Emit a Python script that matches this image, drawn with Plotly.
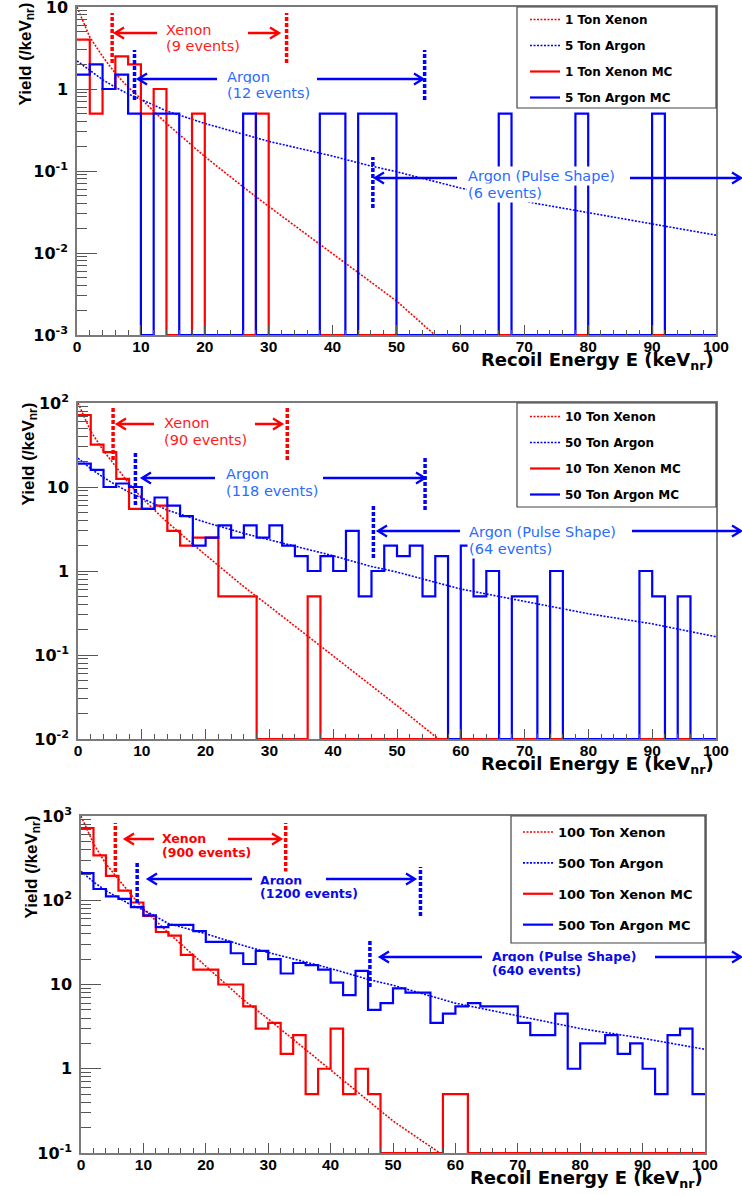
import plotly.graph_objects as go

W, H = 742, 1195

# ---------------- data ----------------
BIN_EDGES = list(range(0, 102, 2))          # 2 keV bins, 0..100 keVnr

# Panel 1: 1 ton Xe / 5 ton Ar
P1_XE_MC = [4, 0.5, 1, 2.5, 2, 0.5, 1, 0, 0, 0.5,
            0, 0, 0, 0, 0.5, 0, 0, 0, 0, 0,
            0, 0, 0, 0, 0, 0, 0, 0, 0, 0,
            0, 0, 0, 0, 0, 0, 0, 0, 0, 0,
            0, 0, 0, 0, 0, 0, 0, 0, 0, 0]
P1_AR_MC = [1.5, 2, 1, 1.5, 0.5, 0, 0.5, 0.5, 0, 0,
            0, 0, 0, 0.5, 0, 0, 0, 0, 0, 0.5,
            0.5, 0, 0.5, 0.5, 0.5, 0, 0, 0, 0, 0,
            0, 0, 0, 0.5, 0, 0, 0, 0, 0, 0.5,
            0, 0, 0, 0, 0, 0.5, 0, 0, 0, 0]
P1_XE_FIT_E = [0, 1, 2, 4, 6, 8, 10, 14, 20, 26, 30, 40, 50, 56]
P1_XE_FIT = [10, 6.5, 4.3, 2.5, 1.55, 1.05, 0.76, 0.38, 0.15, 0.064, 0.037, 0.0098, 0.0026, 0.001]
P1_AR_FIT_E = [0, 2, 4, 6, 8, 10, 14, 20, 26, 30, 40, 46, 50, 60, 72, 80, 90, 100]
P1_AR_FIT = [2.2, 1.7, 1.3, 1.05, 0.87, 0.75, 0.54, 0.38, 0.28, 0.23, 0.152, 0.115, 0.098,
             0.062, 0.04, 0.031, 0.023, 0.0165]

# Panel 2: 10 ton Xe / 50 ton Ar
P2_XE_MC = [72, 32, 26, 12.5, 5.5, 5.5, 6, 3, 2, 2.5,
            2.5, 0.5, 0.5, 0.5, 0, 0, 0, 0, 0.5, 0,
            0, 0, 0, 0, 0, 0, 0, 0, 0, 0,
            0, 0, 0, 0, 0, 0, 0, 0, 0, 0,
            0, 0, 0, 0, 0, 0, 0, 0, 0, 0]
P2_AR_MC = [19, 16, 10, 11, 10, 5.5, 7.5, 6, 4.5, 2,
            2.5, 3.5, 2.5, 3.5, 2.5, 3.5, 2, 1.5, 1, 1.5,
            1, 3, 0.5, 1, 2, 1.5, 2, 0.5, 1.5, 0,
            2, 0.5, 1, 0, 0.5, 0.5, 0, 1, 0, 0,
            0, 0, 0, 0, 1, 0.5, 0, 0.5, 0, 0]
P2_XE_FIT_E = [0, 1, 2, 4, 6, 8, 10, 14, 20, 26, 30, 40, 50, 56.5]
P2_XE_FIT = [100, 68, 46, 27, 17, 11, 7.4, 3.8, 1.55, 0.65, 0.38, 0.097, 0.025, 0.01]
P2_AR_FIT_E = [0, 2, 4, 6, 8, 10, 14, 20, 26, 30, 40, 46, 50, 60, 72, 80, 90, 100]
P2_AR_FIT = [22, 16.5, 13, 10.5, 8.7, 7.4, 5.3, 3.8, 2.8, 2.35, 1.52, 1.13, 0.97,
             0.61, 0.41, 0.31, 0.235, 0.165]

# Panel 3: 100 ton Xe / 500 ton Ar
P3_XE_MC = [720, 340, 195, 130, 94, 65, 42, 38, 22.5, 15,
            15, 10, 10, 5.5, 3, 3.5, 1.5, 2.5, 0.5, 1,
            3, 0.5, 1, 0.5, 0, 0, 0, 0, 0, 0.5,
            0.5, 0, 0, 0, 0, 0, 0, 0, 0, 0,
            0, 0, 0, 0, 0, 0, 0, 0, 0, 0]
P3_AR_MC = [210, 136, 111, 104, 83, 66, 48, 51, 51, 43,
            32, 32, 23.5, 17.5, 25, 20, 13.5, 18, 17, 15,
            10.5, 7.5, 14.5, 5, 6, 9, 8, 8, 3.5, 4.5,
            5.5, 6, 5.5, 5.5, 5.5, 3.5, 2.5, 2.5, 4.5, 1,
            2, 2, 2.5, 1.5, 2, 1, 0.5, 2.5, 3, 0.5]
P3_XE_FIT_E = [0, 1, 2, 4, 6, 8, 10, 14, 20, 26, 30, 40, 50, 57.5]
P3_XE_FIT = [1000, 680, 470, 270, 175, 117, 79, 41, 16.5, 6.6, 3.9, 0.96, 0.24, 0.1]
P3_AR_FIT_E = [0, 2, 4, 6, 8, 10, 14, 20, 26, 30, 40, 46, 50, 60, 72, 80, 90, 100]
P3_AR_FIT = [220, 165, 130, 106, 88, 77, 53, 40, 29, 24, 15.5, 11.5, 9.8,
             6.0, 4.0, 3.0, 2.3, 1.7]

# legend names / labels
P1_NAMES = ["1 Ton Xenon", "5 Ton Argon", "1 Ton Xenon MC", "5 Ton Argon MC"]
P2_NAMES = ["10 Ton Xenon", "50 Ton Argon", "10 Ton Xenon MC", "50 Ton Argon MC"]
P3_NAMES = ["100 Ton Xenon", "500 Ton Argon", "100 Ton Xenon MC", "500 Ton Argon MC"]
XE_EVENTS = ["(9 events)", "(90 events)", "(900 events)"]
AR_EVENTS = ["(12 events)", "(118 events)", "(1200 events)"]
PSD_EVENTS = ["(6 events)", "(64 events)", "(640 events)"]

# analysis windows (keVnr)
XE_WINDOW = [5.5, 32.8]
AR_WINDOW = [9.0, 54.4]
PSD_THRESHOLD = 46.3

X_TICKS = [0, 10, 20, 30, 40, 50, 60, 70, 80, 90, 100]
Y_TICK_TEXT = {-3: "10<sup>-3</sup>", -2: "10<sup>-2</sup>", -1: "10<sup>-1</sup>",
               0: "1", 1: "10", 2: "10<sup>2</sup>", 3: "10<sup>3</sup>"}

# ---------------- layout helpers ----------------
RED = "#ff0000"
BLUE = "#0000ff"
LBLUE = "#2a6cff"
FRAME = "#7a7a7a"


def fx(p):
    return p / W


def fy(p):
    return 1 - p / H


panels = [
    dict(xe=P1_XE_MC, ar=P1_AR_MC, xe_e=P1_XE_FIT_E, xe_f=P1_XE_FIT, ar_e=P1_AR_FIT_E, ar_f=P1_AR_FIT,
         names=P1_NAMES, yr=(-3, 1), box=(77, 716, 7, 335), leg=(517, 716, 7, 108), legpos=(525, 5),
         legfont=12, leggap=7, ytitle=(26, 1), xtitle=361,
         xe_lines=(13, 63), ar_lines=((50, 100), (50, 100)), psd_line=(157, 208),
         xe_arrow=(33, 115, 157, 248, 279), ar_arrow=(79, 138, 217, 317, 423), psd_arrow=(178, 375, 457, 630, 741),
         xe_lab=(166, 30, 46), ar_lab=(227, 77, 93), psd_lab=(468, 176, 193),
         labfont=dict(family="DejaVu Sans", size=14.5), arcol=LBLUE, xecol="#ff1a1a"),
    dict(xe=P2_XE_MC, ar=P2_AR_MC, xe_e=P2_XE_FIT_E, xe_f=P2_XE_FIT, ar_e=P2_AR_FIT_E, ar_f=P2_AR_FIT,
         names=P2_NAMES, yr=(-2, 2), box=(78, 716, 403, 739), leg=(517, 716, 403, 507), legpos=(525, 402),
         legfont=12, leggap=7, ytitle=(29, 401), xtitle=765,
         xe_lines=(408, 460), ar_lines=((452, 505), (457, 510)), psd_line=(505, 558),
         xe_arrow=(424, 117, 154, 255, 282), ar_arrow=(478, 142, 215, 323, 425), psd_arrow=(531, 378, 460, 632, 741),
         xe_lab=(164, 423, 440), ar_lab=(226, 474, 491), psd_lab=(469, 532, 549),
         labfont=dict(family="DejaVu Sans", size=14.5), arcol=LBLUE, xecol="#ff1a1a"),
    dict(xe=P3_XE_MC, ar=P3_AR_MC, xe_e=P3_XE_FIT_E, xe_f=P3_XE_FIT, ar_e=P3_AR_FIT_E, ar_f=P3_AR_FIT,
         names=P3_NAMES, yr=(-1, 3), box=(81, 705, 816, 1153), leg=(511, 705, 816, 943), legpos=(518, 817),
         legfont=13, leggap=11, ytitle=(32, 814), xtitle=1179,
         xe_lines=(823, 872), ar_lines=((862, 903), (867, 916)), psd_line=(940, 987),
         xe_arrow=(839, 125, 154, 228, 281), ar_arrow=(879, 148, 252, 326, 415), psd_arrow=(957, 380, 482, 655, 741),
         xe_lab=(162, 838, 852), ar_lab=(260, 880, 893), psd_lab=(492, 957, 970),
         labfont=dict(family="DejaVu Sans", size=12.5, weight="bold"), arcol="#0a0ae6", xecol=RED),
]

fig = go.Figure()
annotations = []
shapes = []
layout = dict(width=W, height=H, margin=dict(l=0, r=0, t=0, b=0, autoexpand=False),
              paper_bgcolor="white", plot_bgcolor="white", showlegend=True)


def arrow_path(yy, tip, tail, col):
    s = 1 if tail > tip else -1          # head arms point back toward the tail
    path = (f"M {fx(tail)},{fy(yy)} L {fx(tip)},{fy(yy)} "
            f"M {fx(tip + s * 9)},{fy(yy - 5.5)} L {fx(tip)},{fy(yy)} L {fx(tip + s * 9)},{fy(yy + 5.5)}")
    return dict(type="path", xref="paper", yref="paper", path=path,
                line=dict(color=col, width=2.3), layer="above")


for i, p in enumerate(panels):
    n = i + 1
    sfx = "" if n == 1 else str(n)
    xa, ya = "x" + sfx, "y" + sfx
    legname = "legend" + sfx
    lo, hi = p["yr"]
    ymin = 10 ** lo
    x0, x1, y0, y1 = p["box"]

    def step(vals):
        ys = [v if v > 0 else ymin for v in vals]
        return BIN_EDGES, ys + [ys[-1]]

    for k, (xs, ys, col) in enumerate(((p["xe_e"], p["xe_f"], RED), (p["ar_e"], p["ar_f"], BLUE))):
        fig.add_trace(go.Scatter(x=xs, y=ys, mode="lines", line=dict(color=col, width=1.6, dash="2px,1.5px"),
                                 name=p["names"][k], xaxis=xa, yaxis=ya, legend=legname,
                                 legendgroup=f"g{n}{k}"))
    for k, vals, col in ((2, p["xe"], RED), (3, p["ar"], BLUE)):
        sx, sy = step(vals)
        fig.add_trace(go.Scatter(x=sx, y=sy, mode="lines", line=dict(color=col, width=2.2, shape="hv"),
                                 name=p["names"][k], xaxis=xa, yaxis=ya, legend=legname,
                                 legendgroup=f"g{n}{k}"))

    layout["xaxis" + sfx] = dict(
        domain=[fx(x0), fx(x1)], anchor=ya, range=[0, 100], tickmode="array", tickvals=X_TICKS,
        ticks="inside", ticklen=10, tickcolor="#555", showline=True, mirror=True, linecolor=FRAME,
        linewidth=1.5, showgrid=False, zeroline=False, automargin=False, ticklabelstandoff=-3,
        ticklabeloverflow="allow",
        tickfont=dict(family="Liberation Sans", size=15.5, weight="bold", color="black"),
        minor=dict(tickmode="array", tickvals=list(range(0, 101, 2)), ticks="inside", ticklen=5,
                   tickcolor="#555", showgrid=False))
    layout["yaxis" + sfx] = dict(
        domain=[fy(y1), fy(y0)], anchor=xa, type="log", range=[lo, hi], tickmode="array",
        tickvals=[10 ** e for e in range(lo, hi + 1)], ticktext=[Y_TICK_TEXT[e] for e in range(lo, hi + 1)],
        ticks="inside", ticklen=20, tickcolor="#555", showline=True, mirror=True, linecolor=FRAME,
        linewidth=1.5, showgrid=False, zeroline=False, ticklabelstandoff=4, automargin=False,
        ticklabeloverflow="allow",
        tickfont=dict(family="DejaVu Sans", size=16, weight="bold", color="black"),
        minor=dict(tickmode="array", tickvals=[m * 10 ** e for e in range(lo, hi) for m in range(2, 10)],
                   ticks="inside", ticklen=10, tickcolor="#555", showgrid=False))

    # legend box + legend
    lx0, lx1, ly0, ly1 = p["leg"]
    shapes.append(dict(type="rect", xref="paper", yref="paper", x0=fx(lx0), x1=fx(lx1), y0=fy(ly1), y1=fy(ly0),
                       fillcolor="white", line=dict(color="#444", width=1.2), layer="above"))
    lpx, lpy = p["legpos"]
    layout[legname] = dict(x=fx(lpx), y=fy(lpy), xanchor="left", yanchor="top",
                           bgcolor="rgba(0,0,0,0)", borderwidth=0, tracegroupgap=p["leggap"],
                           font=dict(family="DejaVu Sans", size=p["legfont"], weight="bold", color="black"))

    # axis titles
    annotations.append(dict(text="Recoil Energy E (keV<sub>nr</sub>)", xref="paper", yref="paper",
                            x=fx(x1), y=fy(p["xtitle"]), xanchor="right", yanchor="middle", showarrow=False,
                            font=dict(family="DejaVu Sans", size=18, weight="bold", color="black")))
    tx, ty = p["ytitle"]
    annotations.append(dict(text="Yield (/keV<sub>nr</sub>)", xref="paper", yref="paper", textangle=-90,
                            x=fx(tx), y=fy(ty), xanchor="center", yanchor="top", showarrow=False,
                            font=dict(family="Liberation Sans", size=17, weight="bold", color="black")))

    # window markers (thick dotted verticals)
    for e in XE_WINDOW:
        shapes.append(dict(type="line", xref=xa, yref="paper", x0=e, x1=e, y0=fy(p["xe_lines"][1]),
                           y1=fy(p["xe_lines"][0]), line=dict(color=RED, width=3.5, dash="4px,2px")))
    for e, (ya0, ya1) in zip(AR_WINDOW, p["ar_lines"]):
        shapes.append(dict(type="line", xref=xa, yref="paper", x0=e, x1=e, y0=fy(ya1), y1=fy(ya0),
                           line=dict(color=BLUE, width=3.5, dash="4px,2px")))
    shapes.append(dict(type="line", xref=xa, yref="paper", x0=PSD_THRESHOLD, x1=PSD_THRESHOLD,
                       y0=fy(p["psd_line"][1]), y1=fy(p["psd_line"][0]),
                       line=dict(color=BLUE, width=3.5, dash="4px,2px")))

    # labels (white boxes)
    for (lxp, l1, l2), t1, t2, col in ((p["xe_lab"], "Xenon", XE_EVENTS[i], p["xecol"]),
                                       (p["ar_lab"], "Argon", AR_EVENTS[i], p["arcol"]),
                                       (p["psd_lab"], "Argon (Pulse Shape)", PSD_EVENTS[i], p["arcol"])):
        for txt, yy in ((t1, l1), (t2, l2)):
            annotations.append(dict(text=txt, xref="paper", yref="paper", x=fx(lxp - 2), y=fy(yy),
                                    xanchor="left", yanchor="middle", showarrow=False, bgcolor="white",
                                    borderpad=1, font=dict(color=col, **p["labfont"])))

    # arrows
    for key, col in (("xe_arrow", RED), ("ar_arrow", BLUE), ("psd_arrow", BLUE)):
        yy, tipL, tailL, tailR, tipR = p[key]
        shapes.append(arrow_path(yy, tipL, tailL, col))
        shapes.append(arrow_path(yy, tipR, tailR, col))

layout["annotations"] = annotations
layout["shapes"] = shapes
fig.update_layout(**layout)
fig.write_html("out.html", config={"displayModeBar": False},
               post_script="document.body.style.margin='0';document.body.style.overflow='hidden';")
